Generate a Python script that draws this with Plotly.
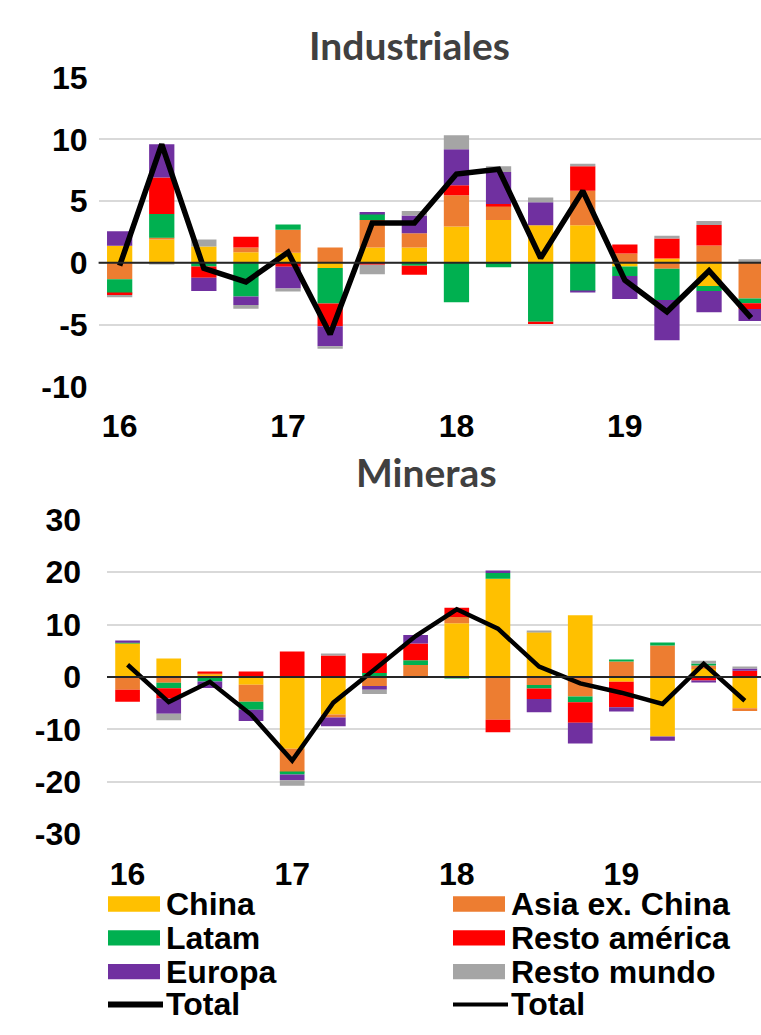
import plotly.graph_objects as go

# Quarterly periods 2016Q1 .. 2019Q4 (x positions 0..15)
quarters = list(range(16))
year_ticks = [0, 4, 8, 12]
year_labels = ["16", "17", "18", "19"]

series_names = ["China", "Asia ex. China", "Latam", "Resto américa", "Europa", "Resto mundo"]
series_colors = ["#FFC000", "#ED7D31", "#00B050", "#FF0000", "#7030A0", "#A5A5A5"]

# Industriales: contributions by region
ind_china = [1.38, 1.9, 1.33, 0.86, 0.81, -0.42, 1.25, 1.25, 2.94, 3.46, 3.05, 3.05, -0.29, 0.36, -1.88, 0.08]
ind_asia = [-1.33, 0.13, 0.0, 0.39, 1.88, 1.25, 2.21, 1.15, 2.53, 1.17, 0.0, 2.79, 0.76, -0.47, 1.4, -2.89]
ind_latam = [-1.15, 1.93, -0.29, -2.73, 0.42, -2.86, 0.52, -0.23, -3.18, -0.36, -4.77, -2.27, -0.78, -2.53, -0.39, -0.38]
ind_resto_am = [-0.13, 2.94, -0.91, 0.86, -0.31, -1.85, -0.16, -0.73, 0.81, 0.13, -0.18, 1.98, 0.73, 1.61, 1.67, -0.47]
ind_europa = [1.17, 2.71, -1.07, -0.68, -1.77, -1.61, 0.13, 1.43, 2.92, 2.6, 1.85, -0.1, -1.86, -3.26, -1.72, -0.97]
ind_resto_mundo = [-0.18, -0.1, 0.57, -0.31, -0.23, -0.21, -0.76, 0.36, 1.12, 0.47, 0.39, 0.21, 0.0, 0.23, 0.31, 0.22]
ind_total = [-0.23, 9.6, -0.44, -1.54, 0.86, -5.78, 3.23, 3.23, 7.19, 7.58, 0.39, 5.83, -1.41, -3.96, -0.63, -4.45]

# Mineras: contributions by region
min_china = [6.44, 3.5, 0.5, -1.47, -13.68, -7.18, 0.0, 0.0, 10.25, 18.71, 8.53, 11.78, -0.92, -11.35, 1.5, -5.95]
min_asia = [-2.45, -1.1, 0.2, -3.25, -4.54, -0.55, -1.72, 2.27, 1.17, -8.16, -1.53, -3.74, 2.95, 6.0, 0.7, -0.55]
min_latam = [0.1, -1.04, -0.86, -1.53, -0.37, 0.0, 0.74, 0.92, -0.3, 1.1, -0.67, -1.1, 0.26, 0.55, 0.37, 0.0]
min_resto_am = [-2.27, -1.96, 0.25, 1.04, 4.85, 4.11, 3.8, 3.19, 1.78, -2.39, -2.02, -3.87, -4.85, 0.0, -0.7, 1.17]
min_europa = [0.43, -2.94, -1.23, -2.15, -1.1, -1.66, -0.74, 1.6, 0.0, 0.49, -2.52, -3.99, -0.8, -0.8, -0.3, 0.43]
min_resto_mundo = [0.0, -1.23, 0.0, 0.0, -1.04, 0.2, -0.8, 0.0, 0.0, 0.0, 0.2, 0.0, 0.0, 0.0, 0.5, 0.3]
min_total = [2.33, -4.79, -0.92, -7.18, -15.95, -4.9, 1.4, 7.8, 12.9, 9.2, 1.96, -1.23, -3.0, -5.15, 2.5, -4.54]

W, H = 761, 1035
TICK_FONT = dict(family="Liberation Sans, Arial, sans-serif", size=32, color="black")
TITLE_FONT = dict(family="Lato, Open Sans, sans-serif", size=39, color="#404040")


def fx(px):
    return px / W


def fy(py):
    return 1 - py / H


fig = go.Figure()

panels = [
    ("x", "y", [ind_china, ind_asia, ind_latam, ind_resto_am, ind_europa, ind_resto_mundo], ind_total, 5.5),
    ("x2", "y2", [min_china, min_asia, min_latam, min_resto_am, min_europa, min_resto_mundo], min_total, 4.5),
]

for xa, ya, values, total, lw in panels:
    for name, color, vals in zip(series_names, series_colors, values):
        fig.add_trace(go.Bar(
            x=quarters, y=vals, name=name, xaxis=xa, yaxis=ya,
            marker=dict(color=color, line=dict(width=0)),
            showlegend=False,
        ))
    fig.add_trace(go.Scatter(
        x=quarters, y=total, name="Total", xaxis=xa, yaxis=ya, mode="lines",
        line=dict(color="black", width=lw), showlegend=False,
    ))

xcommon = dict(
    tickmode="array", tickvals=year_ticks, ticktext=[f"<b>{t}</b>" for t in year_labels],
    tickfont=TICK_FONT, showgrid=False, zeroline=False, showline=False, ticks="",
    ticklabelstandoff=18,
)
ycommon = dict(
    tickfont=TICK_FONT, showgrid=True, gridcolor="#d9d9d9", gridwidth=1.5,
    zeroline=False, showline=False, ticks="",
)

fig.update_layout(
    width=W, height=H,
    margin=dict(l=0, r=0, t=0, b=0),
    paper_bgcolor="white", plot_bgcolor="white",
    barmode="relative", bargap=0.4,
    showlegend=False,
    xaxis=dict(domain=[fx(98.6), 1], range=[-0.5, -0.5 + (W - 98.6) / 42.1], anchor="y", **xcommon),
    yaxis=dict(domain=[fy(381.7), fy(61.7)], range=[-10, 15], anchor="x",
               tickvals=[-10, -5, 0, 5, 10, 15],
               ticktext=["<b>-10</b>", "<b>-5</b>", "<b>0</b>", "<b>5</b>", "<b>10</b>", "<b>15</b>"],
               ticklabelstandoff=10, **ycommon),
    xaxis2=dict(domain=[fx(107), 1], range=[-0.5, -0.5 + (W - 107) / 41.15], anchor="y2", **xcommon),
    yaxis2=dict(domain=[fy(845.7), fy(519.7)], range=[-30, 30], anchor="x2",
                tickvals=[-30, -20, -10, 0, 10, 20, 30],
                ticktext=["<b>-30</b>", "<b>-20</b>", "<b>-10</b>", "<b>0</b>", "<b>10</b>", "<b>20</b>", "<b>30</b>"],
                ticklabelstandoff=25, **ycommon),
)

# Horizontal axis lines at zero, drawn over the bars
for xa, ya in [("x", "y"), ("x2", "y2")]:
    fig.add_shape(type="line", xref=f"{xa} domain", yref=ya, x0=0, x1=1, y0=0, y1=0,
                  line=dict(color="#262626", width=2), layer="above")

# Panel titles
fig.add_annotation(text="<b>Industriales</b>", x=fx(409.5), y=fy(28), xref="paper", yref="paper",
                   xanchor="center", yanchor="middle", showarrow=False, font=TITLE_FONT)
fig.add_annotation(text="<b>Mineras</b>", x=fx(426), y=fy(470), xref="paper", yref="paper",
                   xanchor="center", yanchor="middle", showarrow=False, font=TITLE_FONT)

# Legend: two columns, four rows
legend_rows = [918, 953, 988, 1022]
legend_cols = [(108, 160, 165), (453, 505, 510)]
entries = [
    ("China", "#FFC000", 0, 0), ("Asia ex. China", "#ED7D31", 0, 1),
    ("Latam", "#00B050", 1, 0), ("Resto américa", "#FF0000", 1, 1),
    ("Europa", "#7030A0", 2, 0), ("Resto mundo", "#A5A5A5", 2, 1),
]
for label, color, r, c in entries:
    x0, x1, xt = legend_cols[c]
    yc = legend_rows[r]
    fig.add_shape(type="rect", xref="paper", yref="paper", x0=fx(x0), x1=fx(x1),
                  y0=fy(yc + 8), y1=fy(yc - 8), fillcolor=color, line=dict(width=0))
    fig.add_annotation(text=f"<b>{label}</b>", x=fx(xt), y=fy(yc), xref="paper", yref="paper",
                       xanchor="left", yanchor="middle", showarrow=False, font=TICK_FONT, borderpad=0)

for c, lw in [(0, 6), (1, 4)]:
    x0, x1, xt = legend_cols[c]
    yc = legend_rows[3]
    fig.add_shape(type="line", xref="paper", yref="paper", x0=fx(x0), x1=fx(x1 + 3),
                  y0=fy(yc), y1=fy(yc), line=dict(color="black", width=lw))
    fig.add_annotation(text="<b>Total</b>", x=fx(xt), y=fy(yc), xref="paper", yref="paper",
                       xanchor="left", yanchor="middle", showarrow=False, font=TICK_FONT, borderpad=0)

fig.write_html("out.html")
